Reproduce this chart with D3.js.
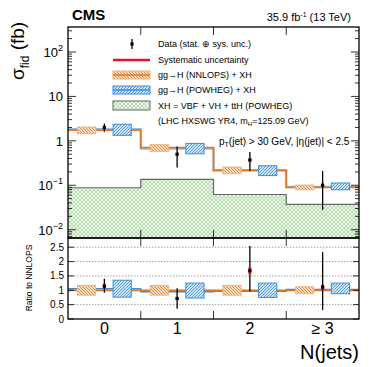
<!DOCTYPE html>
<html>
<head>
<meta charset="utf-8">
<script src="https://cdn.jsdelivr.net/npm/d3@7"></script>
<style>
  body { margin: 0; background: #fff; }
  text { font-family: "Liberation Sans", Arial, sans-serif; }
</style>
</head>
<body>
<div id="chart"></div>
<script>
// bins and values
var binLabels = ["0", "1", "2", "\u2265 3"];
var binCenters = [0, 1, 2, 3];
var binEdges = [-0.5, 0.5, 1.5, 2.5, 3.5];

var dataVal = [2.0, 0.5, 0.37, 0.1];
var dataLo = [1.6, 0.25, 0.21, 0.028];
var dataHi = [2.45, 0.75, 0.56, 0.21];
var systRel = [0.07, 0.05, 0.07, 0.08];

var nnlops = [1.75, 0.7, 0.22, 0.09];
var nnlopsLo = [0.83, 0.83, 0.83, 0.88];
var nnlopsHi = [1.17, 1.17, 1.17, 1.12];

var powhegRatio = [1.05, 0.95, 0.97, 1.03];
var powhegLo = [0.76, 0.73, 0.75, 0.88];
var powhegHi = [1.35, 1.25, 1.25, 1.25];

var xh = [0.088, 0.135, 0.062, 0.037];

var logTicks = [0.01, 0.1, 1, 10, 100];
var ratioTicks = [0, 0.5, 1, 1.5, 2, 2.5];

var W = 374, H = 367;
var left = 68, right = 359, top1 = 27, bot1 = 238, bot2 = 319;

var orange = "#e07a22", orangeLight = "#f0b27a";
var blue = "#3b8de0", blueLight = "#8cc0f0";

var svg = d3.select("#chart").append("svg")
  .attr("width", W).attr("height", H);

var defs = svg.append("defs");
function hatch(id, color, bg, dir) {
  var p = defs.append("pattern").attr("id", id)
    .attr("patternUnits", "userSpaceOnUse").attr("width", 3).attr("height", 3);
  p.append("rect").attr("width", 3).attr("height", 3).attr("fill", bg);
  if (dir > 0) {
    p.append("path").attr("d", "M-1,1 L1,-1 M0,3 L3,0 M2,4 L4,2")
      .attr("stroke", color).attr("stroke-width", 0.9);
  } else {
    p.append("path").attr("d", "M-1,2 L1,4 M0,0 L3,3 M2,-1 L4,1")
      .attr("stroke", color).attr("stroke-width", 0.9);
  }
}
hatch("hOrange", orange, "#fbe3cf", -1);
hatch("hBlue", blue, "#d4e8fb", 1);
var gp = defs.append("pattern").attr("id", "hGreen")
  .attr("patternUnits", "userSpaceOnUse").attr("width", 4).attr("height", 4);
gp.append("rect").attr("width", 4).attr("height", 4).attr("fill", "#eef7ea");
gp.append("path").attr("d", "M0,0 L4,4 M4,0 L0,4")
  .attr("stroke", "#8fc98a").attr("stroke-width", 0.6);

var x = d3.scaleLinear().domain([-0.5, 3.5]).range([left, right]);
var y = d3.scaleLog().domain([0.0065, 365]).range([bot1, top1]);
var yr = d3.scaleLinear().domain([0, 2.82]).range([bot2, bot1]);

var topG = svg.append("g");
var rat = svg.append("g");

// clip for the top panel
defs.append("clipPath").attr("id", "clipTop").append("rect")
  .attr("x", left).attr("y", top1).attr("width", right - left).attr("height", bot1 - top1);

// XH green area
var stepPts = function (vals) {
  var pts = binEdges.map(function (e, i) { return [e, vals[Math.min(i, vals.length - 1)]]; });
  return pts;
};
topG.append("path")
  .datum(stepPts(xh))
  .attr("clip-path", "url(#clipTop)")
  .attr("fill", "url(#hGreen)")
  .attr("stroke", "none")
  .attr("d", d3.area().curve(d3.curveStepAfter)
    .x(function (d) { return x(d[0]); })
    .y0(bot1)
    .y1(function (d) { return y(d[1]); }));
topG.append("path")
  .datum(stepPts(xh))
  .attr("fill", "none").attr("stroke", "#666").attr("stroke-width", 1.2)
  .attr("d", d3.line().curve(d3.curveStepAfter)
    .x(function (d) { return x(d[0]); })
    .y(function (d) { return y(d[1]); }));

// prediction lines in top panel
var powhegAbs = powhegRatio.map(function (r, i) { return r * nnlops[i]; });
topG.append("path").datum(stepPts(powhegAbs))
  .attr("fill", "none").attr("stroke", blueLight).attr("stroke-width", 2)
  .attr("d", d3.line().curve(d3.curveStepAfter)
    .x(function (d) { return x(d[0]); }).y(function (d) { return y(d[1]); }));
topG.append("path").datum(stepPts(nnlops))
  .attr("fill", "none").attr("stroke", orange).attr("stroke-width", 1.8)
  .attr("d", d3.line().curve(d3.curveStepAfter)
    .x(function (d) { return x(d[0]); }).y(function (d) { return y(d[1]); }));

var off = 0.245, bw = 0.125;
// uncertainty boxes top panel
topG.selectAll("rect.nn").data(binCenters).enter().append("rect")
  .attr("x", function (d) { return x(d - off - bw); })
  .attr("width", function () { return x(bw) - x(-bw); })
  .attr("y", function (d, i) { return y(nnlops[i] * nnlopsHi[i]); })
  .attr("height", function (d, i) { return y(nnlops[i] * nnlopsLo[i]) - y(nnlops[i] * nnlopsHi[i]); })
  .attr("fill", "url(#hOrange)").attr("stroke", orangeLight).attr("stroke-width", 1);
topG.selectAll("rect.pw").data(binCenters).enter().append("rect")
  .attr("x", function (d) { return x(d + off - bw); })
  .attr("width", function () { return x(bw) - x(-bw); })
  .attr("y", function (d, i) { return y(nnlops[i] * powhegHi[i]); })
  .attr("height", function (d, i) { return y(nnlops[i] * powhegLo[i]) - y(nnlops[i] * powhegHi[i]); })
  .attr("fill", "url(#hBlue)").attr("stroke", blue).attr("stroke-width", 1);

// data points top panel
binCenters.forEach(function (c, i) {
  topG.append("line").attr("x1", x(c)).attr("x2", x(c))
    .attr("y1", y(dataLo[i])).attr("y2", y(dataHi[i]))
    .attr("stroke", "#000").attr("stroke-width", 1.3);
  topG.append("line").attr("x1", x(c)).attr("x2", x(c))
    .attr("y1", y(dataVal[i] * (1 - systRel[i]))).attr("y2", y(dataVal[i] * (1 + systRel[i])))
    .attr("stroke", "#e8141c").attr("stroke-width", 3);
  topG.append("rect").attr("x", x(c) - 1.6).attr("y", y(dataVal[i]) - 1.6)
    .attr("width", 3.2).attr("height", 3.2).attr("fill", "#000");
});

// ratio panel
[0.5, 1, 1.5, 2, 2.5].forEach(function (v) {
  rat.append("line").attr("x1", left).attr("x2", right)
    .attr("y1", yr(v)).attr("y2", yr(v))
    .attr("stroke", "#888").attr("stroke-width", 0.8).attr("stroke-dasharray", "1.5,1.5");
});
rat.append("path").datum(stepPts(powhegRatio))
  .attr("fill", "none").attr("stroke", blue).attr("stroke-width", 1.5)
  .attr("d", d3.line().curve(d3.curveStepAfter)
    .x(function (d) { return x(d[0]); }).y(function (d) { return yr(d[1]); }));
rat.append("line").attr("x1", left).attr("x2", right)
  .attr("y1", yr(1)).attr("y2", yr(1))
  .attr("stroke", orange).attr("stroke-width", 1.8);

rat.selectAll("rect.nn").data(binCenters).enter().append("rect")
  .attr("x", function (d) { return x(d - off - bw); })
  .attr("width", function () { return x(bw) - x(-bw); })
  .attr("y", function (d, i) { return yr(nnlopsHi[i]); })
  .attr("height", function (d, i) { return yr(nnlopsLo[i]) - yr(nnlopsHi[i]); })
  .attr("fill", "url(#hOrange)").attr("stroke", orangeLight).attr("stroke-width", 1);
rat.selectAll("rect.pw").data(binCenters).enter().append("rect")
  .attr("x", function (d) { return x(d + off - bw); })
  .attr("width", function () { return x(bw) - x(-bw); })
  .attr("y", function (d, i) { return yr(powhegHi[i]); })
  .attr("height", function (d, i) { return yr(powhegLo[i]) - yr(powhegHi[i]); })
  .attr("fill", "url(#hBlue)").attr("stroke", blue).attr("stroke-width", 1);

binCenters.forEach(function (c, i) {
  var r = dataVal[i] / nnlops[i];
  rat.append("line").attr("x1", x(c)).attr("x2", x(c))
    .attr("y1", yr(dataLo[i] / nnlops[i])).attr("y2", yr(dataHi[i] / nnlops[i]))
    .attr("stroke", "#000").attr("stroke-width", 1.3);
  rat.append("line").attr("x1", x(c)).attr("x2", x(c))
    .attr("y1", yr(r * (1 - systRel[i]))).attr("y2", yr(r * (1 + systRel[i])))
    .attr("stroke", "#e8141c").attr("stroke-width", 3);
  rat.append("rect").attr("x", x(c) - 1.6).attr("y", yr(r) - 1.6)
    .attr("width", 3.2).attr("height", 3.2).attr("fill", "#000");
});

// frames
svg.append("rect").attr("x", left).attr("y", top1).attr("width", right - left).attr("height", bot1 - top1)
  .attr("fill", "none").attr("stroke", "#000").attr("stroke-width", 1.3);
svg.append("rect").attr("x", left).attr("y", bot1).attr("width", right - left).attr("height", bot2 - bot1)
  .attr("fill", "none").attr("stroke", "#000").attr("stroke-width", 1.3);

// log axis ticks (left and right, inward)
var logMinor = [];
for (var e = -3; e <= 2; e++) {
  for (var m = 1; m <= 9; m++) {
    var v = m * Math.pow(10, e);
    if (v >= 0.0065 && v <= 365) logMinor.push({ v: v, major: m === 1 });
  }
}
logMinor.forEach(function (t) {
  var len = t.major ? 8 : 4;
  svg.append("line").attr("x1", left).attr("x2", left + len)
    .attr("y1", y(t.v)).attr("y2", y(t.v)).attr("stroke", "#000").attr("stroke-width", 0.8);
  svg.append("line").attr("x1", right - len).attr("x2", right)
    .attr("y1", y(t.v)).attr("y2", y(t.v)).attr("stroke", "#000").attr("stroke-width", 0.8);
});
var logLab = svg.append("g");
logTicks.forEach(function (v) {
  var e = Math.round(Math.log10(v));
  var t = logLab.append("text").attr("x", left - 5).attr("y", y(v) + 5)
    .attr("text-anchor", "end").attr("font-size", 13);
  if (e === 0) t.text("1");
  else if (e === 1) t.text("10");
  else {
    t.append("tspan").text("10");
    t.append("tspan").attr("font-size", 9).attr("dy", -6).text(e < 0 ? "\u2212" + (-e) : e);
  }
});

// ratio axis ticks
ratioTicks.forEach(function (v) {
  svg.append("line").attr("x1", left).attr("x2", left + 6)
    .attr("y1", yr(v)).attr("y2", yr(v)).attr("stroke", "#000").attr("stroke-width", 0.8);
  svg.append("line").attr("x1", right - 6).attr("x2", right)
    .attr("y1", yr(v)).attr("y2", yr(v)).attr("stroke", "#000").attr("stroke-width", 0.8);
  svg.append("text").attr("x", left - 4).attr("y", yr(v) + 3.5)
    .attr("text-anchor", "end").attr("font-size", 10).text(v);
});

// x ticks at bin edges
[0.5, 1.5, 2.5].forEach(function (e) {
  [[top1, top1 + 8], [bot1 - 8, bot1], [bot1, bot1 + 8], [bot2 - 8, bot2]].forEach(function (s) {
    svg.append("line").attr("x1", x(e)).attr("x2", x(e))
      .attr("y1", s[0]).attr("y2", s[1]).attr("stroke", "#000").attr("stroke-width", 0.8);
  });
});
binCenters.forEach(function (c, i) {
  svg.append("text").attr("x", x(c)).attr("y", bot2 + 15)
    .attr("text-anchor", "middle").attr("font-size", 16).text(binLabels[i]);
});
svg.append("text").attr("x", right).attr("y", 359).attr("text-anchor", "end")
  .attr("font-size", 20).text("N(jets)");

// y labels
var yl = svg.append("text").attr("transform", "translate(24," + 80 + ") rotate(-90)")
  .attr("text-anchor", "start").attr("font-size", 19);
yl.append("tspan").text("\u03c3");
yl.append("tspan").attr("font-size", 12).attr("dy", 5).text("fid");
yl.append("tspan").attr("dy", -5).text(" (fb)");
svg.append("text").attr("transform", "translate(32," + 278 + ") rotate(-90)")
  .attr("text-anchor", "middle").attr("font-size", 8.5).text("Ratio to NNLOPS");

// header
svg.append("text").attr("x", 72).attr("y", 20).attr("font-size", 15)
  .attr("font-weight", "bold").text("CMS");
var lumi = svg.append("text").attr("x", 351).attr("y", 21).attr("text-anchor", "end").attr("font-size", 11);
lumi.append("tspan").text("35.9 fb");
lumi.append("tspan").attr("font-size", 7).attr("dy", -4).text("-1");
lumi.append("tspan").attr("dy", 4).text(" (13 TeV)");

// legend
var lg = svg.append("g");
var lx0 = 113, lx1 = 150, tx = 158, fs = 9;
lg.append("line").attr("x1", 132).attr("x2", 132).attr("y1", 39).attr("y2", 49)
  .attr("stroke", "#000").attr("stroke-width", 1.3);
lg.append("rect").attr("x", 130.4).attr("y", 42.4).attr("width", 3.2).attr("height", 3.2).attr("fill", "#000");
lg.append("text").attr("x", tx).attr("y", 47).attr("font-size", fs).text("Data (stat. \u2295 sys. unc.)");
lg.append("line").attr("x1", lx0).attr("x2", lx1).attr("y1", 60).attr("y2", 60)
  .attr("stroke", "#e8141c").attr("stroke-width", 2.5);
lg.append("text").attr("x", tx).attr("y", 63).attr("font-size", fs).text("Systematic uncertainty");
lg.append("rect").attr("x", lx0).attr("y", 71).attr("width", lx1 - lx0).attr("height", 8)
  .attr("fill", "url(#hOrange)").attr("stroke", orangeLight);
lg.append("line").attr("x1", lx0).attr("x2", lx1).attr("y1", 75).attr("y2", 75)
  .attr("stroke", orange).attr("stroke-width", 1.5);
lg.append("text").attr("x", tx).attr("y", 78).attr("font-size", fs).text("gg\u2192H (NNLOPS) + XH");
lg.append("rect").attr("x", lx0).attr("y", 86).attr("width", lx1 - lx0).attr("height", 8)
  .attr("fill", "url(#hBlue)").attr("stroke", blue);
lg.append("line").attr("x1", lx0).attr("x2", lx1).attr("y1", 90).attr("y2", 90)
  .attr("stroke", blue).attr("stroke-width", 1.5);
lg.append("text").attr("x", tx).attr("y", 93).attr("font-size", fs).text("gg\u2192H (POWHEG) + XH");
lg.append("rect").attr("x", lx0).attr("y", 101).attr("width", lx1 - lx0).attr("height", 9)
  .attr("fill", "url(#hGreen)").attr("stroke", "#666");
lg.append("text").attr("x", tx).attr("y", 109).attr("font-size", fs).text("XH = VBF + VH + ttH (POWHEG)");
var lh = lg.append("text").attr("x", tx).attr("y", 124).attr("font-size", fs);
lh.append("tspan").text("(LHC HXSWG YR4, m");
lh.append("tspan").attr("font-size", 6).attr("dy", 2).text("H");
lh.append("tspan").attr("dy", -2).text("=125.09 GeV)");

var pt = svg.append("text").attr("x", 219).attr("y", 145).attr("font-size", 10);
pt.append("tspan").text("p");
pt.append("tspan").attr("font-size", 7).attr("dy", 2).text("T");
pt.append("tspan").attr("dy", -2).text("(jet) > 30 GeV, |\u03b7(jet)| < 2.5");
</script>
</body>
</html>
